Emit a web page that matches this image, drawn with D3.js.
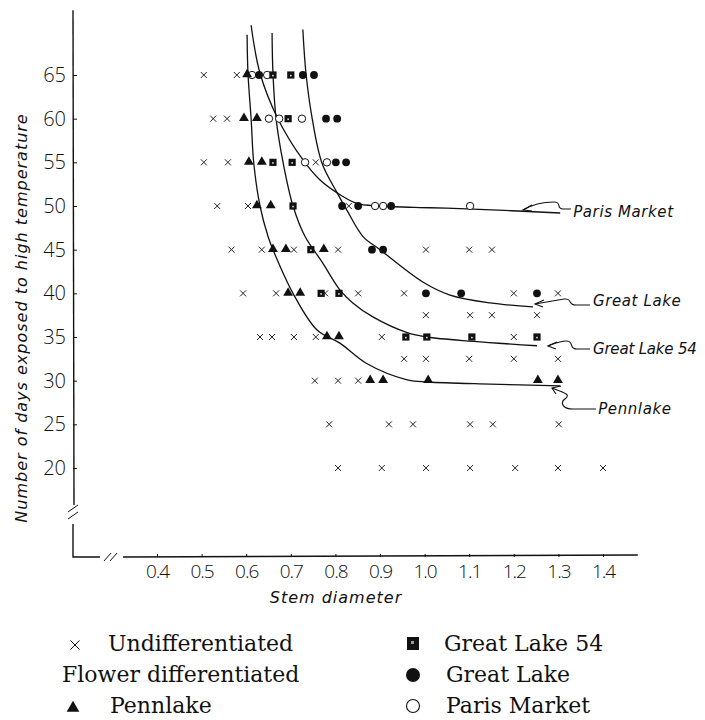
<!DOCTYPE html>
<html>
<head>
<meta charset="utf-8">
<script src="https://cdn.jsdelivr.net/npm/d3@7"></script>
<style>
  body { margin: 0; background: #fff; }
  svg { display: block; }
  .tick text { font-family: "Open Sans", "DejaVu Sans", sans-serif; font-weight: 300; }
</style>
</head>
<body>
<div id="chart"></div>
<script>
// tick values
const xTicks = [0.4, 0.5, 0.6, 0.7, 0.8, 0.9, 1.0, 1.1, 1.2, 1.3, 1.4];
const yTicks = [20, 25, 30, 35, 40, 45, 50, 55, 60, 65];

// [stem diameter, days]
const undiffPoints = [
  [0.505, 65], [0.579, 65],
  [0.526, 60], [0.557, 60],
  [0.505, 55], [0.559, 55], [0.756, 55],
  [0.535, 50], [0.604, 50], [0.830, 50],
  [0.567, 45], [0.635, 45], [0.707, 45], [0.806, 45], [1.003, 45], [1.100, 45], [1.151, 45],
  [0.593, 40], [0.667, 40], [0.777, 40], [0.851, 40], [0.954, 40], [1.200, 40], [1.299, 40],
  [1.003, 37.5], [1.102, 37.5], [1.151, 37.5], [1.252, 37.5],
  [0.631, 35], [0.658, 35], [0.707, 35], [0.756, 35], [0.904, 35], [1.200, 35],
  [0.954, 32.5], [1.003, 32.5], [1.100, 32.5], [1.200, 32.5], [1.299, 32.5],
  [0.754, 30], [0.806, 30], [0.851, 30],
  [0.786, 25], [0.920, 25], [0.974, 25], [1.102, 25], [1.153, 25], [1.301, 25],
  [0.806, 20], [0.904, 20], [1.003, 20], [1.102, 20], [1.203, 20], [1.299, 20], [1.400, 20]
];

const pennlakePoints = [
  [0.602, 65], [0.595, 60], [0.624, 60], [0.606, 55], [0.635, 55], [0.624, 50], [0.655, 50],
  [0.660, 45], [0.689, 45], [0.774, 45], [0.694, 40], [0.721, 40], [0.781, 35], [0.808, 35],
  [0.878, 30], [0.907, 30], [1.008, 30], [1.254, 30], [1.299, 30]
];

const gl54Points = [
  [0.660, 65], [0.700, 65], [0.694, 60], [0.660, 55], [0.703, 55], [0.705, 50], [0.745, 45],
  [0.768, 40], [0.808, 40], [0.958, 35], [1.005, 35], [1.106, 35], [1.252, 35]
];

const greatLakePoints = [
  [0.629, 65], [0.727, 65], [0.752, 65], [0.779, 60], [0.804, 60], [0.801, 55], [0.824, 55],
  [0.815, 50], [0.851, 50], [0.925, 50], [0.882, 45], [0.907, 45], [1.003, 40], [1.082, 40], [1.252, 40]
];

const parisPoints = [
  [0.613, 65], [0.647, 65], [0.651, 60], [0.674, 60], [0.725, 60], [0.732, 55], [0.781, 55],
  [0.889, 50], [0.907, 50], [1.102, 50]
];

// hand drawn boundary curves
const pennCurve = [
  [0.602, 69.6], [0.604, 65.2], [0.611, 60.0], [0.617, 54.9], [0.631, 50.0], [0.649, 46.5],
  [0.660, 45.0], [0.705, 40.0], [0.759, 35.8], [0.810, 34.3], [0.869, 32.0], [0.961, 30.1],
  [1.008, 29.85], [1.147, 29.6], [1.304, 29.4]
];
const gl54Curve = [
  [0.658, 69.8], [0.660, 65.2], [0.667, 60.0], [0.683, 54.9], [0.705, 50.0], [0.732, 46.5],
  [0.770, 43.6], [0.810, 40.4], [0.839, 38.9], [0.884, 37.3], [0.961, 35.5], [1.005, 35.0],
  [1.109, 34.5], [1.252, 34.0]
];
const greatLakeCurve = [
  [0.727, 70.2], [0.734, 65.2], [0.748, 60.0], [0.770, 54.9], [0.804, 51.5], [0.826, 49.5],
  [0.862, 46.5], [0.900, 45.0], [0.996, 41.3], [1.057, 39.8], [1.147, 38.9], [1.243, 38.45]
];
const parisCurve = [
  [0.611, 70.7], [0.631, 65.2], [0.671, 60.0], [0.727, 55.3], [0.765, 53.0], [0.804, 51.5],
  [0.848, 50.3], [0.900, 50.0], [1.012, 49.8], [1.109, 49.65], [1.304, 49.2]
];

const curveNames = ["Paris Market", "Great Lake", "Great Lake 54", "Pennlake"];
const legendLeft = ["Undifferentiated", "Flower differentiated", "Pennlake"];
const legendRight = ["Great Lake 54", "Great Lake", "Paris Market"];

const width = 705, height = 720;

const svg = d3.select("#chart")
  .append("svg")
  .attr("width", width)
  .attr("height", height)
  .attr("viewBox", [0, 0, width, height]);

svg.append("rect").attr("width", width).attr("height", height).attr("fill", "white");

const x = d3.scaleLinear().domain([0.4, 1.4]).range([157, 603]);
const y = d3.scaleLinear().domain([20, 65]).range([468, 75]);

const axisX = 73, axisY = 557;

// axis lines with the break marks
const axes = svg.append("g").attr("stroke", "#111").attr("stroke-width", 1.4).attr("fill", "none");
axes.append("path").attr("d", `M${axisX},${y(72.4)} L${axisX + 1},505`);
axes.append("path").attr("d", `M${axisX},524 L${axisX},${axisY} L100,${axisY}`);
axes.append("path").attr("d", `M123,${axisY} L${x(1.478)},${axisY - 2}`);
axes.append("path").attr("stroke-width", 1).attr("d",
  `M${axisX - 5},512 L${axisX + 5},505 M${axisX - 5},519 L${axisX + 5},512`);
axes.append("path").attr("stroke-width", 1).attr("d",
  `M104,${axisY + 4} L111,${axisY - 4} M110,${axisY + 4} L117,${axisY - 4}`);

// y axis ticks
const gy = svg.append("g")
  .attr("transform", `translate(${axisX},0)`)
  .call(d3.axisLeft(y).tickValues(yTicks).tickSize(-4).tickPadding(7));
gy.select(".domain").remove();
gy.selectAll(".tick line").attr("stroke", "#111");
gy.selectAll(".tick text").attr("font-size", 20).attr("fill", "#111");

// x axis ticks
const gx = svg.append("g")
  .attr("transform", `translate(0,${axisY})`)
  .call(d3.axisBottom(x).tickValues(xTicks).tickFormat(d3.format(".1f")).tickSize(-3).tickPadding(8));
gx.select(".domain").remove();
gx.selectAll(".tick line").attr("stroke", "#111");
gx.selectAll(".tick text").attr("font-size", 19).attr("fill", "#111").attr("letter-spacing", -1);

// axis titles
svg.append("text")
  .attr("transform", `translate(27,318) rotate(-90)`)
  .attr("text-anchor", "middle")
  .attr("font-family", "DejaVu Sans, sans-serif")
  .attr("font-style", "italic")
  .attr("font-size", 16)
  .attr("letter-spacing", 1)
  .attr("fill", "#111")
  .text("Number of days exposed to high temperature");

svg.append("text")
  .attr("x", 336)
  .attr("y", 603)
  .attr("text-anchor", "middle")
  .attr("font-family", "DejaVu Sans, sans-serif")
  .attr("font-style", "italic")
  .attr("font-size", 16)
  .attr("letter-spacing", 1)
  .attr("fill", "#111")
  .text("Stem diameter");

// curves
const line = d3.line()
  .x(d => x(d[0]))
  .y(d => y(d[1]))
  .curve(d3.curveCatmullRom.alpha(0.5));

svg.append("g")
  .attr("fill", "none")
  .attr("stroke", "#111")
  .attr("stroke-width", 1.3)
  .selectAll("path")
  .data([parisCurve, greatLakeCurve, gl54Curve, pennCurve])
  .join("path")
  .attr("d", line);

// curve labels and their squiggly pointers
const pointers = [
  { dx: 13, dy: 4, d: "M571,209 L563,209 C556,209 562,202 554,202 C545,202 533,204 523,210", tip: [523, 210], barb: [[9, -5], [9, 1]] },
  { dx: 60, dy: -1, d: "M590,305 L576,305 C567,305 573,298 564,299 L535,304", tip: [535, 304], barb: [[9, -4], [8, 3]] },
  { dx: 56, dy: 8, d: "M590,349 L577,349 C568,349 575,341 566,341 C560,341 556,343 548,346", tip: [548, 346], barb: [[9, -4], [8, 3]] },
  { dx: 38, dy: 28, d: "M596,409 L573,409 C563,409 559,403 566,398 C571,394 561,392 552,388", tip: [552, 388], barb: [[9, -2], [4, 6]] }
];
const curveEnds = [parisCurve, greatLakeCurve, gl54Curve, pennCurve].map(c => c[c.length - 1]);

const ann = svg.append("g").attr("fill", "none").attr("stroke", "#111").attr("stroke-width", 1.1);
pointers.forEach((p, i) => {
  ann.append("path").attr("d", p.d);
  ann.append("path").attr("d",
    `M${p.tip[0] + p.barb[0][0]},${p.tip[1] + p.barb[0][1]} L${p.tip[0]},${p.tip[1]} L${p.tip[0] + p.barb[1][0]},${p.tip[1] + p.barb[1][1]}`);
  svg.append("text")
    .attr("x", x(curveEnds[i][0]) + p.dx)
    .attr("y", y(curveEnds[i][1]) + p.dy)
    .attr("font-family", "DejaVu Sans, sans-serif")
    .attr("font-style", "italic")
    .attr("font-size", 15)
    .attr("letter-spacing", i === 2 ? -0.2 : 0.6)
    .attr("fill", "#111")
    .text(curveNames[i]);
});

// markers
const crossPath = (cx, cy, s) => `M${cx - s},${cy - s} L${cx + s},${cy + s} M${cx - s},${cy + s} L${cx + s},${cy - s}`;

svg.append("g")
  .attr("stroke", "#222")
  .attr("stroke-width", 1)
  .selectAll("path")
  .data(undiffPoints)
  .join("path")
  .attr("d", d => crossPath(x(d[0]), y(d[1]), 3));

svg.append("g")
  .selectAll("circle")
  .data(parisPoints)
  .join("circle")
  .attr("cx", d => x(d[0]))
  .attr("cy", d => y(d[1]))
  .attr("r", 3.7)
  .attr("fill", "white")
  .attr("stroke", "#111")
  .attr("stroke-width", 1);

const tri = d3.symbol(d3.symbolTriangle, 42);
svg.append("g")
  .selectAll("path")
  .data(pennlakePoints)
  .join("path")
  .attr("transform", d => `translate(${x(d[0])},${y(d[1]) - 0.5})`)
  .attr("d", tri)
  .attr("fill", "#111");

const sq = svg.append("g").selectAll("g").data(gl54Points).join("g")
  .attr("transform", d => `translate(${x(d[0])},${y(d[1])})`);
sq.append("rect").attr("x", -3.6).attr("y", -3.6).attr("width", 7.2).attr("height", 7.2).attr("fill", "#111");
sq.append("rect").attr("x", -0.8).attr("y", -0.2).attr("width", 1.6).attr("height", 1.6).attr("fill", "#ddd");

svg.append("g")
  .selectAll("circle")
  .data(greatLakePoints)
  .join("circle")
  .attr("cx", d => x(d[0]))
  .attr("cy", d => y(d[1]))
  .attr("r", 3.9)
  .attr("fill", "#111");

// legend
const legend = svg.append("g")
  .attr("font-family", "DejaVu Serif, serif")
  .attr("font-size", 22)
  .attr("fill", "#111");

const rowY = [651, 682, 713];

legend.append("path").attr("d", crossPath(75, rowY[0] - 6, 4.5)).attr("stroke", "#111").attr("stroke-width", 1);
legend.append("text").attr("x", 108).attr("y", rowY[0]).text(legendLeft[0]);
legend.append("text").attr("x", 62).attr("y", rowY[1]).text(legendLeft[1]);
legend.append("path").attr("d", d3.symbol(d3.symbolTriangle, 70)()).attr("transform", `translate(73,${rowY[2] - 5})`).attr("fill", "#111");
legend.append("text").attr("x", 110).attr("y", rowY[2]).text(legendLeft[2]);

legend.append("rect").attr("x", 407).attr("y", rowY[0] - 14).attr("width", 12).attr("height", 13).attr("fill", "#111");
legend.append("rect").attr("x", 411).attr("y", rowY[0] - 10).attr("width", 3).attr("height", 3).attr("fill", "#999");
legend.append("text").attr("x", 444).attr("y", rowY[0]).text(legendRight[0]);
legend.append("circle").attr("cx", 413).attr("cy", rowY[1] - 7).attr("r", 7).attr("fill", "#111");
legend.append("text").attr("x", 446).attr("y", rowY[1]).text(legendRight[1]);
legend.append("circle").attr("cx", 413).attr("cy", rowY[2] - 7).attr("r", 6.5).attr("fill", "none").attr("stroke", "#111").attr("stroke-width", 1.1);
legend.append("text").attr("x", 446).attr("y", rowY[2]).text(legendRight[2]);
</script>
</body>
</html>
